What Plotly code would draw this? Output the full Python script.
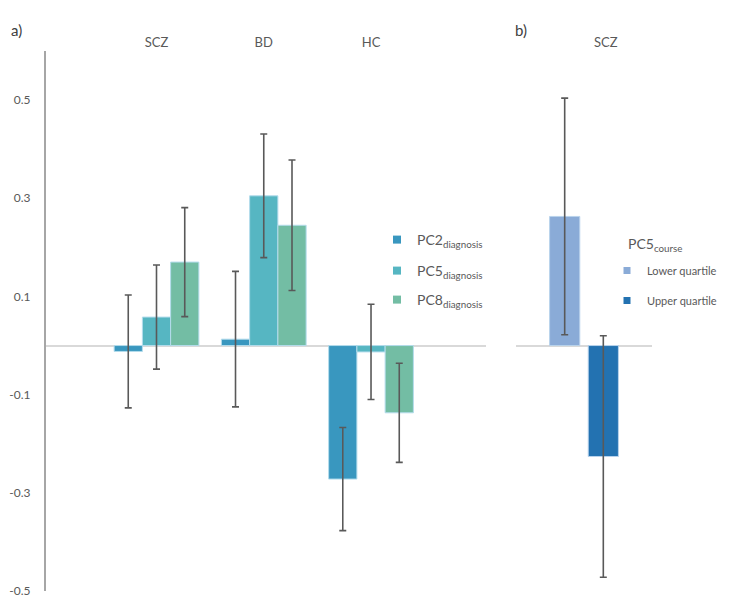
import plotly.graph_objects as go

# ---------------- data ----------------
groups = ["SCZ", "BD", "HC"]
pc2 = [-0.012, 0.013, -0.272]
pc2_err = [0.115, 0.138, 0.105]
pc5 = [0.058, 0.305, -0.013]
pc5_err = [0.106, 0.126, 0.097]
pc8 = [0.170, 0.245, -0.137]
pc8_err = [0.111, 0.133, 0.101]

course_group = ["SCZ"]
lower_q = [0.263]
lower_q_err = [0.241]
upper_q = [-0.226]
upper_q_err = [0.246]

ytick_vals = [0.5, 0.3, 0.1, -0.1, -0.3, -0.5]
ytick_text = ["0.5", "0.3", "0.1", "-0.1", "-0.3", "-0.5"]

# name, values, errors, colour, legend id
series_a = [
    ("PC2<sub>diagnosis</sub>", pc2, pc2_err, "#3997BF", "legend"),
    ("PC5<sub>diagnosis</sub>", pc5, pc5_err, "#56B6C2", "legend3"),
    ("PC8<sub>diagnosis</sub>", pc8, pc8_err, "#73BDA4", "legend4"),
]
series_b = [
    ("Lower quartile", lower_q, lower_q_err, "#8AABD7", -0.253, "legend2"),
    ("Upper quartile", upper_q, upper_q_err, "#2372B1", 0.031, "legend5"),
]

W, H = 733, 611
FONT = "Lato, 'Open Sans', sans-serif"
GREY = "#595959"
ERR = "#595959"

fig = go.Figure()

for name, vals, err, col, leg in series_a:
    fig.add_trace(go.Bar(
        x=groups, y=vals, name=name, showlegend=False,
        marker=dict(color=col, line=dict(color="#B4DCEC", width=1)),
        error_y=dict(type="data", array=err, visible=True, color=ERR,
                     thickness=1.6, width=3.5),
        xaxis="x", yaxis="y",
    ))
    fig.add_trace(go.Scatter(
        x=[None], y=[None], mode="markers", name=name, legend=leg,
        marker=dict(symbol="square", size=8, color=col),
        xaxis="x", yaxis="y",
    ))

for name, vals, err, col, off, leg in series_b:
    fig.add_trace(go.Bar(
        x=course_group, y=vals, name=name, showlegend=False,
        width=0.222, offset=off,
        marker=dict(color=col, line=dict(color="#B9D3EC", width=1)),
        error_y=dict(type="data", array=err, visible=True, color=ERR,
                     thickness=1.6, width=3.5),
        xaxis="x2", yaxis="y2",
    ))
    fig.add_trace(go.Scatter(
        x=[None], y=[None], mode="markers", name=name, legend=leg,
        marker=dict(symbol="square", size=7, color=col),
        xaxis="x2", yaxis="y2",
    ))

yrange = [-0.5, 0.6]
ydom = [1 - 591 / H, 1 - 51 / H]


def leg_box(x_px, top_px, size):
    return dict(x=x_px / W, xanchor="left", y=1 - top_px / H, yanchor="top",
                bgcolor="rgba(0,0,0,0)", font=dict(size=size, color=GREY))


fig.update_layout(
    width=W, height=H,
    margin=dict(l=0, r=0, t=0, b=0),
    paper_bgcolor="white", plot_bgcolor="white",
    font=dict(family=FONT, color=GREY),
    barmode="group", bargap=0.21, bargroupgap=0,
    xaxis=dict(
        domain=[45.7 / W, 486 / W], type="category",
        categoryorder="array", categoryarray=groups,
        range=[-1.033, 3.072], side="top", ticks="",
        showline=False, showgrid=False, zeroline=False,
        tickfont=dict(size=13, color=GREY), automargin=False,
        anchor="y",
    ),
    yaxis=dict(
        domain=ydom, range=yrange, tickvals=ytick_vals, ticktext=ytick_text,
        showline=True, linecolor="#A6A6A6", linewidth=1.5,
        showgrid=False, zeroline=True, zerolinecolor="#D9D9D9",
        zerolinewidth=1.5, ticks="", ticklabelstandoff=11,
        tickfont=dict(size=12, color=GREY), automargin=False,
        anchor="x",
    ),
    xaxis2=dict(
        domain=[516 / W, 652 / W], type="category", range=[-0.5, 0.5],
        showticklabels=False, ticks="", showline=False, showgrid=False,
        zeroline=False, anchor="y2", automargin=False,
    ),
    yaxis2=dict(
        domain=ydom, range=yrange, showticklabels=False, ticks="",
        showline=False, showgrid=False, zeroline=True,
        zerolinecolor="#D9D9D9", zerolinewidth=1.5, anchor="x2",
        automargin=False,
    ),
    legend=leg_box(377, 224, 14),
    legend3=leg_box(377, 255, 14),
    legend4=leg_box(377, 284, 14),
    legend2=leg_box(607, 256, 11),
    legend5=leg_box(607, 286, 11),
    annotations=[
        dict(text="a)", x=9 / W, y=1 - 30 / H, xref="paper", yref="paper",
             xanchor="left", yanchor="middle", showarrow=False,
             font=dict(size=15, color="#404040")),
        dict(text="b)", x=513 / W, y=1 - 30 / H, xref="paper", yref="paper",
             xanchor="left", yanchor="middle", showarrow=False,
             font=dict(size=15, color="#404040")),
        dict(text="SCZ", x=606 / W, y=1 - 42 / H, xref="paper", yref="paper",
             xanchor="center", yanchor="middle", showarrow=False,
             font=dict(size=13, color=GREY)),
        dict(text="PC5<sub>course</sub>", x=626 / W, y=1 - 244 / H,
             xref="paper", yref="paper", xanchor="left", yanchor="middle",
             showarrow=False, font=dict(size=14, color=GREY)),
    ],
)

fig.write_html("out.html", post_script="document.body.style.margin='0';",
               config={"displayModeBar": False})
